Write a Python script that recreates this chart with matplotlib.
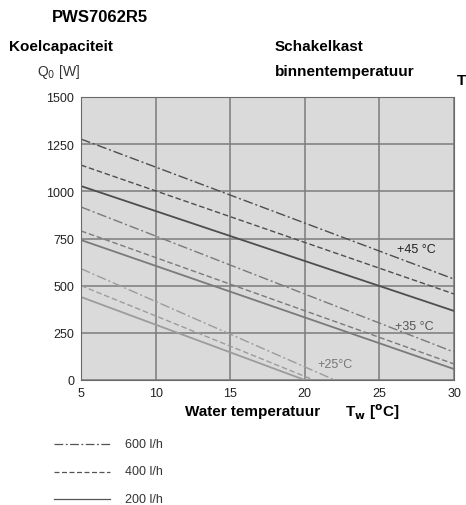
import numpy as np
import matplotlib.pyplot as plt

# water temperature end points (degC) and cooling capacity (W)
# 45 degC cabinet temperature
t45 = [5, 30]
q45_600 = [1277, 535]
q45_400 = [1139, 456]
q45_200 = [1028, 366]
# 35 degC
t35 = [5, 30]
q35_600 = [917, 148]
q35_400 = [790, 85]
q35_200 = [742, 58]
# 25 degC (lines stop at Q = 0)
t25_600 = [5, 22.0]
q25_600 = [590, 0]
t25_400 = [5, 20.6]
q25_400 = [500, 0]
t25_200 = [5, 20.0]
q25_200 = [440, 0]

xticks = [5, 10, 15, 20, 25, 30]
yticks = [0, 250, 500, 750, 1000, 1250, 1500]
flows = ['600 l/h', '400 l/h', '200 l/h']

plt.rcParams['font.family'] = ['Liberation Sans', 'DejaVu Sans']
bold_font = ['Liberation Sans', 'DejaVu Sans']

fig = plt.figure(figsize=(4.66, 5.06), dpi=100)
ax = fig.add_axes([81/466, 1-381/506, 373/466, 283/506])
ax.set_facecolor('#dadada')

dd = (0, (7, 2, 1.5, 2))
da = (0, (4, 2))
c45, c35, c25 = '#4e4e4e', '#7a7a7a', '#9c9c9c'

ax.plot(t45, q45_600, color=c45, lw=1.0, ls=dd)
ax.plot(t45, q45_400, color=c45, lw=1.0, ls=da)
ax.plot(t45, q45_200, color=c45, lw=1.3)
ax.plot(t35, q35_600, color=c35, lw=1.0, ls=dd)
ax.plot(t35, q35_400, color=c35, lw=1.0, ls=da)
ax.plot(t35, q35_200, color=c35, lw=1.3)
ax.plot(t25_600, q25_600, color=c25, lw=1.0, ls=dd)
ax.plot(t25_400, q25_400, color=c25, lw=1.0, ls=da)
ax.plot(t25_200, q25_200, color=c25, lw=1.3)

ax.set_xlim(5, 30)
ax.set_ylim(0, 1500)
ax.set_xticks(xticks)
ax.set_yticks(yticks)
ax.grid(True, color='#7c7c7c', lw=1.1)
ax.set_axisbelow(True)
ax.tick_params(length=0, labelsize=9, pad=5, colors='#222222')
for s in ax.spines.values():
    s.set_color('#6a6a6a')

ax.text(26.18, 694, '+45 °C', fontsize=9, color='#222222', va='center')
ax.text(26.05, 286, '+35 °C', fontsize=9, color='#555555', va='center')
ax.text(20.82, 85, '+25°C', fontsize=9, color='#777777', va='center')

fig.text(52/466, 1-18/506, 'PWS7062R5', family=bold_font, fontweight='bold', fontsize=12, va='center')
fig.text(9/466, 1-47/506, 'Koelcapaciteit', family=bold_font, fontweight='bold', fontsize=11, va='center')
fig.text(37/466, 1-72/506, r'Q$_0$ [W]', fontsize=10, va='center', color='#333333')
fig.text(275/466, 1-47/506, 'Schakelkast', family=bold_font, fontweight='bold', fontsize=11, va='center')
fig.text(275/466, 1-72/506, 'binnentemperatuur', family=bold_font, fontweight='bold', fontsize=11, va='center')
fig.text(457/466, 1-81/506, 'T', family=bold_font, fontweight='bold', fontsize=11, va='center')
fig.text(185/466, 1-412/506, 'Water temperatuur', family=bold_font, fontweight='bold', fontsize=11, va='center')
fig.text(345/466, 1-412/506, r'T$_\mathbf{w}$ [$^\mathbf{o}$C]', family=bold_font, fontweight='bold', fontsize=11, va='center')

# legend drawn by hand below the chart
lax = fig.add_axes([0, 0, 1, 1], facecolor='none')
lax.set_xlim(0, 466)
lax.set_ylim(506, 0)
lax.axis('off')
for i, (lbl, ls) in enumerate(zip(flows, [dd, da, '-'])):
    y = 445 + i * 27.5
    lax.plot([54, 110], [y, y], color='#555555', lw=0.9, ls=ls)
    lax.text(125, y, lbl, fontsize=9, va='center', color='#333333')

fig.savefig('out.png', dpi=100)
